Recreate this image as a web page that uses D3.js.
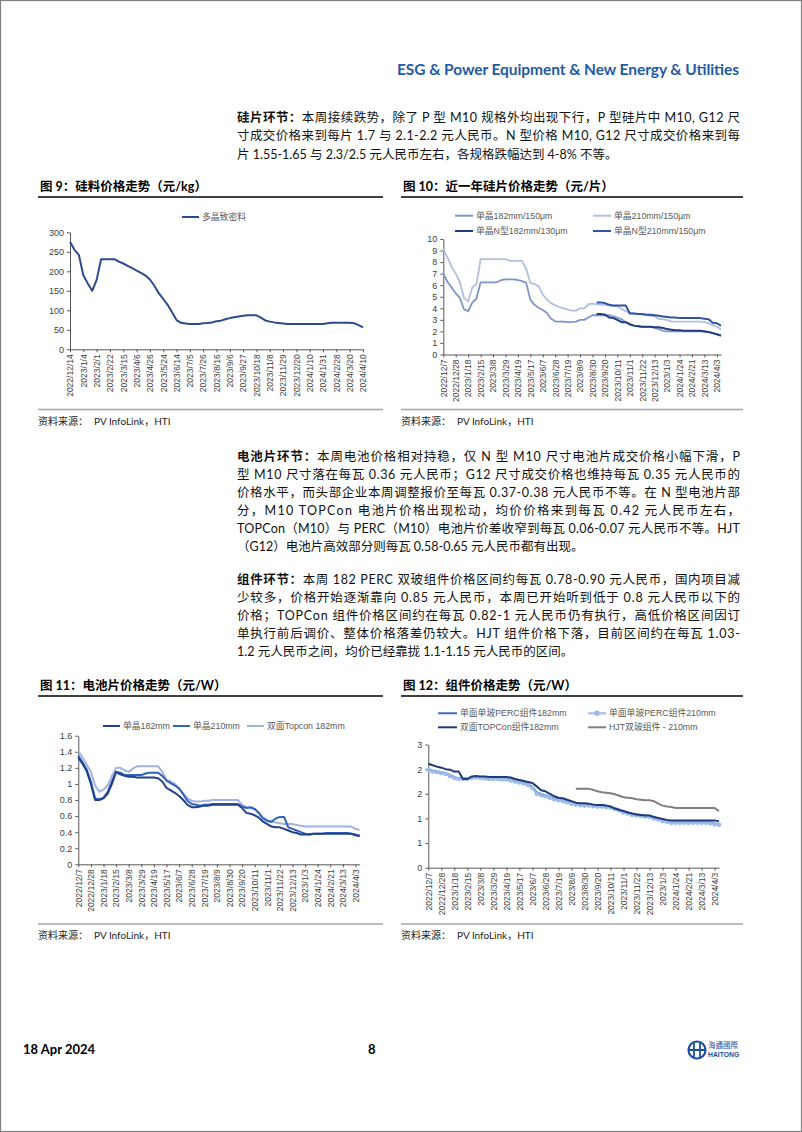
<!DOCTYPE html>
<html><head><meta charset="utf-8">
<script src="https://cdn.jsdelivr.net/npm/d3@7/dist/d3.min.js"></script>
<style>html,body{margin:0;padding:0;background:#fff;}svg{display:block;}</style>
</head><body>
<svg id="page" width="802" height="1132"></svg>
<script>
// ---------------- DATA ----------------
const c9Labels = ["2022/12/14","2023/1/4","2023/2/1","2023/2/22","2023/3/15","2023/4/6","2023/4/26","2023/5/24","2023/6/14","2023/7/5","2023/7/26","2023/8/16","2023/9/6","2023/9/27","2023/10/18","2023/11/8","2023/11/29","2023/12/20","2024/1/10","2024/1/31","2024/2/28","2024/3/20","2024/4/10"];
const c9Poly = [276,255,242,190,169,150,178,231,231,231,
 231,225,220,214,208,202,196,189,179,163,
 144,129,114,95,75,68,66,65,65,65,
 67,67.5,69,72,73.5,77,80,82,84,86,
 87,87,87,81,74,71,69,67.5,66,65,
 65,65,65,65,65,65,65,65,67,68,
 68,68,68,68,67,62,56];
const c9YTicks = [0,50,100,150,200,250,300];
const c9YLabels = ["0","50","100","150","200","250","300"];

const wkLabels = ["2022/12/7","2022/12/28","2023/1/18","2023/2/15","2023/3/8","2023/3/29","2023/4/19","2023/5/17","2023/6/7","2023/6/28","2023/7/19","2023/8/9","2023/8/30","2023/9/20","2023/10/11","2023/11/1","2023/11/22","2023/12/13","2023/1/3","2024/1/24","2024/2/21","2024/3/13","2024/4/3"];

const c10Mono182 = [7.0,6.3,5.8,5.3,4.9,3.9,3.75,4.5,4.85,6.25,
 6.25,6.25,6.25,6.25,6.45,6.5,6.5,6.5,6.45,6.35,
 6.2,4.75,4.3,4.05,3.85,3.6,3.1,2.87,2.85,2.85,
 2.8,2.82,2.85,3.0,3.0,3.2,3.4,3.4,3.4,3.4,
 3.4,3.3,3.2,3.05,2.8,2.65,2.5,2.45,2.4,2.4,
 2.4,2.3,2.2,2.05,2.0,2.0,2.0,2.0,2.0,2.0,
 2.0,2.0,2.0,2.0,1.95,1.85,1.75,1.6];
const c10Mono210 = [9.1,8.4,7.6,7.0,6.3,4.9,4.6,5.8,6.1,8.25,
 8.25,8.25,8.25,8.25,8.25,8.25,8.1,8.1,8.1,8.1,
 7.45,6.2,6.1,5.9,5.2,4.75,4.45,4.25,4.1,4.0,
 3.88,3.8,3.8,4.0,4.0,4.35,4.4,4.35,4.3,4.3,
 4.25,4.2,4.2,3.95,3.75,3.6,3.55,3.5,3.45,3.4,
 3.35,3.3,3.07,3.05,3.0,2.85,2.85,2.85,2.85,2.85,
 2.85,2.85,2.85,2.8,2.7,2.55,2.4,2.2];
const c10N182 = [null,null,null,null,null,null,null,null,null,null,
 null,null,null,null,null,null,null,null,null,null,
 null,null,null,null,null,null,null,null,null,null,
 null,null,null,null,null,null,null,3.5,3.5,3.45,
 3.2,3.15,3.0,2.8,2.8,2.6,2.5,2.45,2.4,2.4,
 2.4,2.35,2.35,2.3,2.2,2.15,2.1,2.1,2.05,2.05,
 2.05,2.05,2.05,2.0,1.95,1.85,1.75,1.65];
const c10N210 = [null,null,null,null,null,null,null,null,null,null,
 null,null,null,null,null,null,null,null,null,null,
 null,null,null,null,null,null,null,null,null,null,
 null,null,null,null,null,null,null,4.5,4.5,4.45,
 4.3,4.25,4.25,4.25,4.25,3.55,3.55,3.5,3.5,3.45,
 3.45,3.4,3.35,3.3,3.25,3.2,3.2,3.15,3.15,3.15,
 3.15,3.15,3.15,3.1,3.05,2.75,2.7,2.5];
const c10YTicks = [0,1,2,3,4,5,6,7,8,9,10];
const c10YLabels = ["0","1","2","3","4","5","6","7","8","9","10"];

const c11Mono182 = [1.33,1.25,1.16,1.00,0.80,0.80,0.82,0.88,1.00,1.15,
 1.12,1.10,1.09,1.09,1.08,1.08,1.08,1.08,1.08,1.07,
 1.03,0.95,0.92,0.89,0.85,0.80,0.74,0.71,0.71,0.72,
 0.73,0.73,0.74,0.74,0.74,0.74,0.74,0.74,0.74,0.70,
 0.64,0.63,0.61,0.58,0.53,0.50,0.47,0.46,0.46,0.44,
 0.42,0.40,0.39,0.37,0.37,0.37,0.38,0.38,0.38,0.38,
 0.38,0.38,0.38,0.38,0.38,0.38,0.36,0.35];
const c11Mono210 = [1.35,1.27,1.18,1.03,0.82,0.81,0.83,0.90,1.03,1.15,
 1.14,1.11,1.11,1.11,1.11,1.11,1.13,1.14,1.14,1.14,
 1.10,1.04,1.01,0.98,0.94,0.87,0.79,0.75,0.74,0.73,
 0.74,0.74,0.75,0.75,0.75,0.75,0.75,0.75,0.75,0.72,
 0.70,0.71,0.69,0.64,0.57,0.54,0.53,0.57,0.59,0.59,
 0.46,0.44,0.42,0.40,0.38,0.37,0.38,0.38,0.38,0.39,
 0.39,0.39,0.39,0.39,0.39,0.38,0.37,0.36];
const c11Topcon = [1.41,1.33,1.24,1.15,0.98,0.90,0.93,0.98,1.10,1.20,
 1.20,1.17,1.15,1.19,1.22,1.22,1.22,1.22,1.22,1.22,
 1.15,1.05,1.03,1.00,0.95,0.88,0.82,0.79,0.78,0.78,
 0.79,0.79,0.80,0.80,0.80,0.80,0.80,0.80,0.80,0.74,
 0.71,0.70,0.68,0.63,0.58,0.55,0.53,0.52,0.51,0.50,
 0.50,0.50,0.49,0.48,0.47,0.47,0.47,0.47,0.47,0.47,
 0.47,0.47,0.47,0.47,0.47,0.47,0.44,0.43];
const c11YTicks = [0,0.2,0.4,0.6,0.8,1.0,1.2,1.4,1.6];
const c11YLabels = ["0","0.2","0.4","0.6","0.8","1","1.2","1.4","1.6"];

const c12Perc182 = [2.00,1.97,1.96,1.94,1.92,1.88,1.84,1.82,1.82,1.82,
 1.84,1.85,1.84,1.83,1.82,1.82,1.82,1.81,1.81,1.79,
 1.77,1.75,1.73,1.70,1.64,1.53,1.50,1.47,1.44,1.41,
 1.39,1.37,1.35,1.32,1.30,1.29,1.28,1.28,1.27,1.26,
 1.26,1.25,1.24,1.21,1.18,1.14,1.12,1.09,1.08,1.07,
 1.06,1.05,1.02,1.00,0.97,0.95,0.93,0.93,0.93,0.93,
 0.93,0.93,0.93,0.93,0.93,0.92,0.90,0.89];
const c12Perc210 = [1.99,1.95,1.94,1.92,1.90,1.86,1.82,1.80,1.80,1.80,
 1.82,1.83,1.82,1.81,1.80,1.80,1.80,1.79,1.79,1.77,
 1.75,1.73,1.71,1.68,1.62,1.50,1.47,1.45,1.42,1.39,
 1.37,1.35,1.33,1.30,1.28,1.27,1.26,1.26,1.25,1.24,
 1.24,1.23,1.22,1.19,1.16,1.12,1.10,1.07,1.06,1.05,
 1.04,1.03,1.00,0.98,0.95,0.93,0.91,0.91,0.91,0.91,
 0.91,0.91,0.91,0.91,0.91,0.90,0.88,0.87];
const c12Topcon = [2.11,2.08,2.05,2.03,2.00,1.99,1.95,1.95,1.80,1.80,
 1.85,1.86,1.85,1.85,1.84,1.84,1.84,1.84,1.84,1.83,
 1.80,1.78,1.76,1.74,1.72,1.65,1.57,1.55,1.50,1.45,
 1.42,1.41,1.38,1.35,1.32,1.31,1.31,1.30,1.28,1.27,
 1.27,1.26,1.24,1.20,1.17,1.15,1.12,1.10,1.08,1.07,
 1.06,1.06,1.03,1.01,0.99,0.97,0.96,0.96,0.96,0.96,
 0.96,0.96,0.96,0.96,0.96,0.96,0.96,0.94];
const c12Hjt = [null,null,null,null,null,null,null,null,null,null,
 null,null,null,null,null,null,null,null,null,null,
 null,null,null,null,null,null,null,null,null,null,
 null,null,null,null,1.60,1.60,1.60,1.60,1.58,1.55,
 1.53,1.52,1.51,1.49,1.46,1.43,1.42,1.41,1.39,1.38,
 1.37,1.37,1.35,1.30,1.26,1.24,1.23,1.21,1.21,1.21,
 1.21,1.21,1.21,1.21,1.21,1.21,1.21,1.15];
const c12YTicks = [0,0.5,1,1.5,2,2.5];
const c12YLabels = ["0","1","1","2","2","3"];

// ---------------- PAGE ----------------
const svg = d3.select("#page");
const TXT = "Lato, 'Noto Sans CJK SC', sans-serif";
const AX = "'Liberation Sans', Arial, 'Noto Sans CJK SC', sans-serif";

svg.append("rect").attr("x",0.5).attr("y",0.5).attr("width",801).attr("height",1131)
  .attr("fill","#fff").attr("stroke","#7f7f7f").attr("stroke-width",1.2);

svg.append("text").attr("x",739).attr("y",75).attr("text-anchor","end")
  .attr("font-family",TXT).attr("font-weight",700).attr("font-size",15.5)
  .attr("fill","#1f5aa6").attr("textLength",342)
  .text("ESG & Power Equipment & New Energy & Utilities");

function paragraph(lines, y0, lh) {
  lines.forEach((ln, i) => {
    const t = svg.append("text").attr("x",237).attr("y",y0 + i*lh)
      .attr("font-family",TXT).attr("font-size",12.5).attr("fill","#111");
    if (ln.j) t.attr("textLength",503).attr("lengthAdjust","spacing");
    if (ln.b) t.append("tspan").attr("font-weight",700).text(ln.b);
    t.append("tspan").text(ln.t);
  });
}
paragraph([
  {b:"硅片环节：", t:"本周接续跌势，除了 P 型 M10 规格外均出现下行，P 型硅片中 M10, G12 尺", j:true},
  {t:"寸成交价格来到每片 1.7 与 2.1-2.2 元人民币。N 型价格 M10, G12 尺寸成交价格来到每", j:true},
  {t:"片 1.55-1.65 与 2.3/2.5 元人民币左右，各规格跌幅达到 4-8% 不等。"}
], 121.5, 18.5);
paragraph([
  {b:"电池片环节：", t:"本周电池价格相对持稳，仅 N 型 M10 尺寸电池片成交价格小幅下滑，P", j:true},
  {t:"型 M10 尺寸落在每瓦 0.36 元人民币；G12 尺寸成交价格也维持每瓦 0.35 元人民币的", j:true},
  {t:"价格水平，而头部企业本周调整报价至每瓦 0.37-0.38 元人民币不等。在 N 型电池片部", j:true},
  {t:"分，M10 TOPCon 电池片价格出现松动，均价价格来到每瓦 0.42 元人民币左右，", j:true},
  {t:"TOPCon（M10）与 PERC（M10）电池片价差收窄到每瓦 0.06-0.07 元人民币不等。HJT", j:true},
  {t:"（G12）电池片高效部分则每瓦 0.58-0.65 元人民币都有出现。"}
], 460.5, 18);
paragraph([
  {b:"组件环节：", t:"本周 182 PERC 双玻组件价格区间约每瓦 0.78-0.90 元人民币，国内项目减", j:true},
  {t:"少较多，价格开始逐渐靠向 0.85 元人民币，本周已开始听到低于 0.8 元人民币以下的", j:true},
  {t:"价格；TOPCon 组件价格区间约在每瓦 0.82-1 元人民币仍有执行，高低价格区间因订", j:true},
  {t:"单执行前后调价、整体价格落差仍较大。HJT 组件价格下落，目前区间约在每瓦 1.03-", j:true},
  {t:"1.2 元人民币之间，均价已经靠拢 1.1-1.15 元人民币的区间。"}
], 583.5, 18);

function frame(x0, x1, titleY, ruleY, title) {
  svg.append("text").attr("x",x0+2).attr("y",titleY).attr("font-family",TXT)
    .attr("font-weight",700).attr("font-size",12.5).attr("fill","#000").text(title);
  svg.append("line").attr("x1",x0).attr("x2",x1).attr("y1",titleY+6).attr("y2",titleY+6)
    .attr("stroke","#000").attr("stroke-width",1.3);
  svg.append("line").attr("x1",x0).attr("x2",x1).attr("y1",ruleY).attr("y2",ruleY)
    .attr("stroke","#a6a6a6").attr("stroke-width",1.6);
  const s = svg.append("text").attr("x",x0).attr("y",ruleY+15).attr("font-family",TXT)
    .attr("font-size",10).attr("fill","#222");
  s.append("tspan").text("资料来源：");
  s.append("tspan").attr("dx",6).text("PV InfoLink，HTI");
}
frame(38, 383, 191, 409.5, "图 9：硅料价格走势（元/kg）");
frame(401, 743, 191, 409.5, "图 10：近一年硅片价格走势（元/片）");
frame(38, 383, 690, 924, "图 11：电池片价格走势（元/W）");
frame(401, 743, 690, 924, "图 12：组件价格走势（元/W）");

function drawChart(o) {
  const x = d3.scaleLinear().domain([0, o.values0 - 1]).range([o.x0, o.x1]);
  const y = d3.scaleLinear().domain([0, o.yMax]).range([o.yB, o.yT]);
  const g = svg.append("g");
  const gy = g.append("g").attr("transform",`translate(${o.x0},0)`)
    .call(d3.axisLeft(y).tickValues(o.yTicks).tickFormat((d,i)=>o.yLabels[i])
      .tickSize(3).tickSizeOuter(0).tickPadding(3));
  const idx = o.xLabels.map((d,i)=>i*3);
  const gx = g.append("g").attr("transform",`translate(0,${o.yB})`)
    .call(d3.axisBottom(x).tickValues(idx).tickFormat((d,i)=>o.xLabels[i])
      .tickSize(3).tickSizeOuter(0));
  gx.selectAll(".tick text").attr("transform","rotate(-90)").attr("x",-5).attr("y",0)
    .attr("dy","0.33em").attr("text-anchor","end");
  [gy,gx].forEach(a=>{
    a.attr("font-family",AX).attr("font-size",8.5);
    a.selectAll("path,line").attr("stroke","#595959");
    a.selectAll("text").attr("fill","#404040");
  });
  gy.attr("font-size",9);
  o.series.forEach(s=>{
    const line = d3.line().defined(v=>v!=null).x((v,i)=>x(i)).y(v=>y(v));
    g.append("path").datum(s.values).attr("d",line).attr("fill","none")
      .attr("stroke",s.color).attr("stroke-width",s.w).attr("stroke-linejoin","round");
    if (s.marker) {
      g.selectAll(null).data(s.values.map((v,i)=>[i,v]).filter(d=>d[1]!=null)).join("circle")
        .attr("cx",d=>x(d[0])).attr("cy",d=>y(d[1])).attr("r",2.3).attr("fill",s.color);
    }
  });
  o.legend.forEach(l=>{
    svg.append("line").attr("x1",l.x).attr("x2",l.x+l.len).attr("y1",l.y).attr("y2",l.y)
      .attr("stroke",l.s.color).attr("stroke-width",Math.max(2,l.s.w));
    if (l.s.marker) svg.append("circle").attr("cx",l.x+l.len/2).attr("cy",l.y).attr("r",2.8).attr("fill",l.s.color);
    svg.append("text").attr("x",l.x+l.len+3).attr("y",l.y+3).attr("font-family",AX)
      .attr("font-size",8.8).attr("fill","#595959").text(l.label);
  });
}

const s9 = {values:c9Poly, color:"#2c4a8e", w:2};
drawChart({values0:c9Poly.length, x0:70, x1:363, yT:232.3, yB:349.3, yMax:300,
  yTicks:c9YTicks, yLabels:c9YLabels, xLabels:c9Labels, series:[s9],
  legend:[{s:s9, label:"多晶致密料", x:182, y:217, len:17}]});

const s10a = {values:c10Mono182, color:"#7f95c9", w:1.8};
const s10b = {values:c10Mono210, color:"#b2bfe0", w:1.8};
const s10c = {values:c10N182, color:"#203d7f", w:2};
const s10d = {values:c10N210, color:"#2f52a6", w:2};
drawChart({values0:c10Mono182.length, x0:443.3, x1:721, yT:239, yB:354.5, yMax:10,
  yTicks:c10YTicks, yLabels:c10YLabels, xLabels:wkLabels, series:[s10b,s10a,s10d,s10c],
  legend:[
    {s:s10a, label:"单晶182mm/150μm", x:455, y:215.7, len:18},
    {s:s10b, label:"单晶210mm/150μm", x:593, y:215.7, len:18},
    {s:s10c, label:"单晶N型182mm/130μm", x:455, y:231, len:18},
    {s:s10d, label:"单晶N型210mm/150μm", x:593, y:231, len:18}]});

const s11a = {values:c11Mono182, color:"#23408a", w:2};
const s11b = {values:c11Mono210, color:"#3162bf", w:2};
const s11c = {values:c11Topcon, color:"#a3b2de", w:2};
drawChart({values0:c11Mono182.length, x0:78.3, x1:359.7, yT:735.7, yB:864.3, yMax:1.6,
  yTicks:c11YTicks, yLabels:c11YLabels, xLabels:wkLabels, series:[s11c,s11b,s11a],
  legend:[
    {s:s11a, label:"单晶182mm", x:103, y:726, len:17},
    {s:s11b, label:"单晶210mm", x:173, y:726, len:17},
    {s:s11c, label:"双面Topcon 182mm", x:247, y:726, len:17}]});

const s12a = {values:c12Perc182, color:"#4069b6", w:1.8};
const s12b = {values:c12Perc210, color:"#9cbbe8", w:2, marker:true};
const s12c = {values:c12Topcon, color:"#1f3a78", w:2};
const s12d = {values:c12Hjt, color:"#7f7f7f", w:2};
drawChart({values0:c12Perc182.length, x0:428.3, x1:719, yT:744.5, yB:867.7, yMax:2.5,
  yTicks:c12YTicks, yLabels:c12YLabels, xLabels:wkLabels, series:[s12a,s12b,s12c,s12d],
  legend:[
    {s:s12a, label:"单面单玻PERC组件182mm", x:438, y:713.3, len:19},
    {s:s12b, label:"单面单玻PERC组件210mm", x:588, y:713.3, len:18},
    {s:s12c, label:"双面TOPCon组件182mm", x:438, y:727.3, len:19},
    {s:s12d, label:"HJT双玻组件 - 210mm", x:588, y:727.3, len:18}]});

// ---------------- FOOTER ----------------
svg.append("text").attr("x",23).attr("y",1054).attr("font-family",TXT).attr("font-weight",700)
  .attr("font-size",13).attr("fill","#000").text("18 Apr 2024");
svg.append("text").attr("x",368).attr("y",1054).attr("font-family",TXT).attr("font-weight",700)
  .attr("font-size",13).attr("fill","#000").text("8");
const logo = svg.append("g").attr("transform","translate(697,1050)");
logo.append("circle").attr("r",8.5).attr("fill","none").attr("stroke","#1d4f9e").attr("stroke-width",2.2);
logo.append("line").attr("x1",-8).attr("x2",8).attr("y1",0).attr("y2",0).attr("stroke","#1d4f9e").attr("stroke-width",2);
logo.append("line").attr("x1",-3).attr("x2",-3).attr("y1",-7).attr("y2",7).attr("stroke","#1d4f9e").attr("stroke-width",1.8);
logo.append("line").attr("x1",3).attr("x2",3).attr("y1",-7).attr("y2",7).attr("stroke","#1d4f9e").attr("stroke-width",1.8);
svg.append("text").attr("x",708).attr("y",1048).attr("font-family","'Noto Sans CJK TC', sans-serif")
  .attr("font-size",7.5).attr("fill","#1d4f9e").text("海通國際");
svg.append("text").attr("x",708).attr("y",1057).attr("font-family",AX).attr("font-weight",700)
  .attr("font-size",6.8).attr("fill","#1d4f9e").text("HAITONG");
</script>
</body></html>
